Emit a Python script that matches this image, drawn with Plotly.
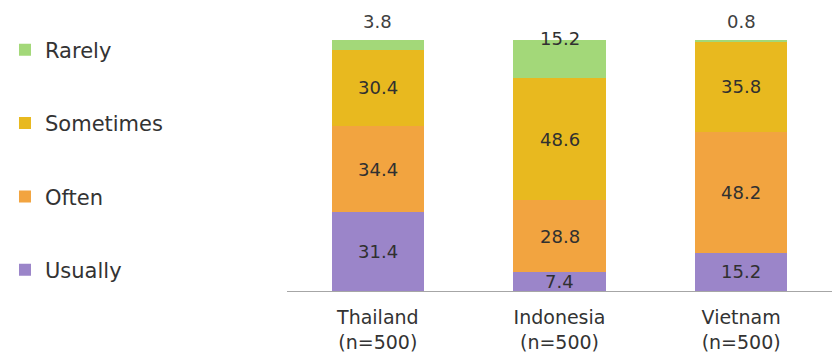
import plotly.graph_objects as go

countries = ["Thailand<br>(n=500)", "Indonesia<br>(n=500)", "Vietnam<br>(n=500)"]
usually = [31.4, 7.4, 15.2]
often = [34.4, 28.8, 48.2]
sometimes = [30.4, 48.6, 35.8]
rarely = [3.8, 15.2, 0.8]

series = [
    ("Usually", usually, "#9b85c9", 4),
    ("Often", often, "#f2a440", 3),
    ("Sometimes", sometimes, "#e8b91f", 2),
    ("Rarely", rarely, "#a3d879", 1),
]

fig = go.Figure()
for name, vals, col, rank in series:
    fig.add_trace(go.Bar(x=countries, y=vals, name=name, marker_color=col,
                         marker_line_width=0, legendgroup=name, legendrank=rank,
                         hoverinfo="skip"))

# labels
annotations = []
base = [0.0] * len(countries)
for name, vals, col, rank in series:
    for i, v in enumerate(vals):
        if name == "Rarely":
            top = round(base[i] + v, 6)
            if v < 5:
                annotations.append(dict(x=countries[i], y=top, text=f"{v}", showarrow=False,
                                        yanchor="middle", yshift=19,
                                        font=dict(size=18, color="#404040")))
            else:
                annotations.append(dict(x=countries[i], y=top, text=f"{v}", showarrow=False,
                                        yanchor="middle", yshift=2,
                                        font=dict(size=18, color="#303030")))
        else:
            annotations.append(dict(x=countries[i], y=round(base[i] + v / 2, 6), text=f"{v}",
                                    showarrow=False, yanchor="middle",
                                    font=dict(size=18, color="#303030")))
        base[i] += v

fig.update_layout(
    barmode="stack",
    bargap=0.49,
    width=832, height=353,
    margin=dict(l=287, r=0, t=40, b=62),
    paper_bgcolor="white", plot_bgcolor="white",
    font=dict(family="DejaVu Sans", color="#333333"),
    annotations=annotations,
    showlegend=True,
    legend=dict(traceorder="grouped", tracegroupgap=43, maxheight=353,
                xref="container", yref="container", x=0.006, y=0.916,
                xanchor="left", yanchor="top",
                font=dict(size=21, color="#333333"), itemclick=False),
    xaxis=dict(showline=True, linecolor="#a6a6a6", linewidth=1, ticks="",
               tickfont=dict(size=19, color="#333333"), showgrid=False,
               ticklabelstandoff=9),
    yaxis=dict(range=[0, 100], visible=False, showgrid=False),
)

fig.write_html("out.html")
